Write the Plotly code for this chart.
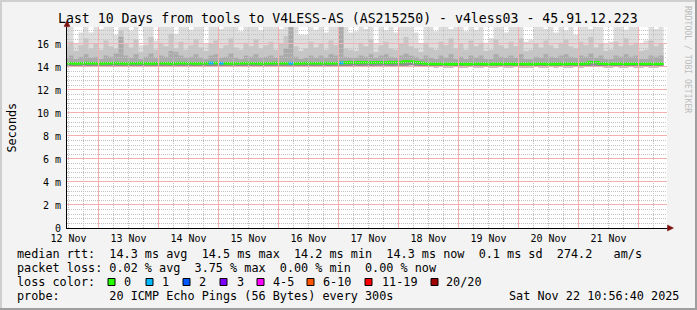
import plotly.graph_objects as go
import pandas as pd

# ---------------- data ----------------
TITLE = "Last 10 Days from tools to V4LESS-AS (AS215250) - v4less03 - 45.91.12.223"
bin_start = pd.Timestamp("2025-11-12 10:00")
bin_hours = 2
view_start = "2025-11-12 11:24"
view_end = "2025-11-22 11:24"
y_top = 17.48  # ms

# ping smoke (ms) per 2-hour bin
rtt_max = [
    18, 18, 16.0, 17.0, 18, 17.0, 18, 17.3, 18, 18,
    16.8, 18, 18, 17.2, 18, 15.9, 18, 18, 16.3, 18,
    18, 18, 16.9, 18, 18, 17.25, 18, 18, 16.0, 18,
    18, 17.3, 18, 18, 18, 17.1, 18, 18, 18, 17.2,
    18, 18, 18, 17.3, 18, 18, 18, 16.8, 16.8, 18,
    17.25, 18, 17.0, 18, 18, 18, 18, 17.0, 17.1, 18,
    17.3, 18, 16.0, 18, 17.2, 18, 17.0, 18, 18, 18,
    17.0, 16.0, 18, 18, 17.1, 18, 18, 17.3, 18, 18,
    17.1, 18, 17.25, 18, 16.1, 16.5, 18, 18, 17.0, 18,
    18, 18, 16.2, 16.4, 18, 18, 17.3, 18, 17.0, 18,
    17.2, 18, 16.8, 18, 18, 17.3, 18, 18, 16.0, 16.2,
    18, 18, 17.25, 18, 18, 16.0, 16.3, 18, 17.3, 18,
]
rtt_p80 = [
    15.8, 16.2, 15.4, 15.9, 16.5, 15.6, 16.0, 15.5, 16.3, 15.8,
    15.6, 17.2, 16.0, 15.7, 16.4, 15.3, 15.9, 16.6, 15.5, 16.1,
    15.8, 16.9, 15.6, 16.2, 15.5, 15.9, 16.4, 15.7, 15.4, 16.0,
    16.3, 15.6, 15.9, 16.5, 15.7, 15.5, 16.1, 15.8, 16.4, 15.6,
    15.9, 16.2, 15.5, 16.0, 16.7, 18.0, 15.8, 15.4, 15.6, 16.2,
    15.7, 16.0, 15.5, 16.3, 15.9, 18.0, 15.6, 15.5, 15.4, 16.1,
    15.8, 16.4, 15.3, 15.9, 16.2, 15.6, 15.5, 16.0, 16.6, 15.8,
    15.6, 15.3, 16.1, 15.7, 15.5, 16.2, 15.9, 16.5, 15.6, 16.0,
    15.5, 16.3, 15.8, 16.1, 15.4, 15.5, 16.4, 15.9, 15.6, 16.2,
    15.8, 16.5, 15.4, 15.5, 16.0, 15.7, 16.3, 15.9, 15.6, 16.1,
    16.4, 15.8, 15.6, 16.2, 15.9, 16.6, 15.7, 16.0, 15.4, 15.5,
    16.2, 15.8, 16.5, 15.9, 16.1, 15.4, 15.5, 16.3, 15.8, 16.0,
]
rtt_p60 = [
    14.8, 15.0, 14.7, 14.9, 15.1, 14.8, 14.9, 14.7, 15.0, 14.9,
    15.2, 16.6, 15.0, 14.8, 15.1, 14.7, 14.9, 15.2, 14.8, 15.0,
    14.9, 15.4, 15.3, 15.0, 14.8, 14.9, 15.1, 14.8, 14.7, 15.0,
    15.1, 14.8, 14.9, 15.2, 14.8, 14.7, 15.0, 14.9, 15.1, 14.8,
    14.9, 15.0, 14.8, 15.0, 15.6, 18.0, 14.9, 14.7, 14.8, 15.0,
    14.8, 15.0, 14.8, 15.1, 15.0, 18.0, 14.9, 14.8, 14.8, 15.0,
    14.9, 15.1, 14.8, 15.0, 15.1, 14.9, 14.8, 15.0, 15.2, 15.0,
    14.9, 14.7, 15.0, 14.8, 14.7, 15.0, 14.8, 15.1, 14.7, 14.9,
    14.7, 15.0, 14.8, 15.0, 14.7, 14.7, 15.1, 14.9, 14.8, 15.0,
    14.8, 15.1, 14.7, 14.7, 14.9, 14.8, 15.1, 14.9, 14.8, 15.0,
    15.1, 14.9, 14.8, 15.0, 14.9, 15.2, 14.8, 15.0, 14.7, 14.7,
    15.0, 14.9, 15.1, 14.9, 15.0, 14.7, 14.7, 15.0, 14.9, 15.0,
]
rtt_min = [
    14.05, 14.05, 14.08, 14.05, 14.03, 14.05, 14.06, 14.05, 14.04, 14.05,
    14.02, 14.03, 14.05, 14.06, 14.05, 14.08, 14.05, 14.04, 14.06, 14.05,
    14.05, 14.03, 14.04, 14.05, 14.06, 14.05, 14.05, 14.04, 14.06, 14.02,
    14.05, 14.02, 14.05, 14.04, 14.05, 14.06, 14.05, 14.05, 14.03, 14.05,
    14.06, 14.05, 14.04, 14.05, 14.03, 14.00, 14.05, 14.06, 14.05, 14.04,
    14.05, 14.05, 14.04, 14.05, 14.05, 14.00, 14.08, 14.08, 14.10, 14.08,
    14.10, 14.08, 14.10, 14.12, 14.10, 14.08, 14.10, 14.10, 14.12, 14.15,
    14.12, 14.08, 14.02, 14.00, 13.98, 14.00, 13.98, 13.97, 14.00, 13.98,
    13.97, 14.00, 13.98, 13.98, 14.00, 13.97, 13.98, 14.00, 13.98, 13.97,
    14.00, 13.98, 13.97, 13.98, 14.00, 13.98, 13.97, 14.00, 13.98, 14.00,
    13.98, 13.97, 14.00, 13.98, 14.02, 14.08, 14.05, 14.00, 13.98, 13.97,
    14.00, 13.98, 13.98, 14.00, 13.97, 13.98, 14.00, 13.98, 13.97, 14.00,
]
rtt_median = [
    14.33, 14.33, 14.30, 14.33, 14.35, 14.33, 14.33, 14.30, 14.33, 14.33,
    14.35, 14.33, 14.30, 14.33, 14.33, 14.35, 14.33, 14.30, 14.33, 14.33,
    14.33, 14.30, 14.33, 14.35, 14.33, 14.33, 14.30, 14.33, 14.33, 14.35,
    14.35, 14.33, 14.33, 14.30, 14.33, 14.33, 14.35, 14.33, 14.33, 14.30,
    14.33, 14.33, 14.35, 14.33, 14.33, 14.33, 14.30, 14.33, 14.35, 14.33,
    14.33, 14.33, 14.35, 14.33, 14.33, 14.36, 14.38, 14.40, 14.38, 14.40,
    14.40, 14.38, 14.40, 14.40, 14.38, 14.40, 14.40, 14.42, 14.48, 14.48,
    14.42, 14.36, 14.30, 14.27, 14.27, 14.28, 14.27, 14.25, 14.27, 14.27,
    14.25, 14.27, 14.28, 14.27, 14.27, 14.25, 14.27, 14.27, 14.28, 14.27,
    14.25, 14.27, 14.27, 14.25, 14.27, 14.28, 14.27, 14.25, 14.27, 14.27,
    14.27, 14.28, 14.27, 14.27, 14.30, 14.42, 14.42, 14.30, 14.28, 14.27,
    14.28, 14.28, 14.27, 14.28, 14.28, 14.27, 14.28, 14.28, 14.27, 14.28,
]
loss = [
    0, 0, 0, 0, 0, 0, 0, 0, 0, 0,
    0, 0, 0, 0, 0, 0, 0, 0, 0, 0,
    0, 0, 0, 0, 0, 0, 0, 0, 0, 1,
    0, 1, 0, 0, 0, 0, 0, 0, 0, 0,
    0, 0, 0, 0, 0, 1, 0, 0, 0, 0,
    0, 0, 0, 0, 0, 1, 0, 0, 0, 0,
    0, 0, 0, 0, 0, 0, 0, 0, 0, 0,
    0, 0, 0, 0, 0, 0, 0, 0, 0, 0,
    0, 0, 0, 0, 0, 0, 0, 0, 0, 0,
    0, 0, 0, 0, 0, 0, 0, 0, 0, 0,
    0, 0, 0, 0, 0, 0, 0, 0, 0, 0,
    0, 0, 0, 0, 0, 0, 0, 0, 0, 0,
]

y_ticks = [0, 2, 4, 6, 8, 10, 12, 14, 16]
y_tick_labels = ["0", "2 m", "4 m", "6 m", "8 m", "10 m", "12 m", "14 m", "16 m"]
y_minor = [round(k * 0.4, 1) for k in range(1, 44) if k % 5 != 0]
day_label_dates = ["2025-11-%02d 12:00" % d for d in range(12, 22)]
day_labels = ["%d Nov" % d for d in range(12, 22)]
midnights = ["2025-11-%02d 00:00" % d for d in range(13, 23)]
six_hour_marks = ["2025-11-%02d %02d:00" % (d, h) for d in range(12, 23) for h in (6, 12, 18)]

loss_labels = ["0", "1", "2", "3", "4-5", "6-10", "11-19", "20/20"]
loss_colors = ["#26ff00", "#00b8ff", "#0059ff", "#7e00ff", "#ff00ff", "#ff5500", "#ff0000", "#a10000"]

stats_rtt = dict(avg="14.3", max="14.5", min="14.2", now="14.3", sd="0.1", ams="274.2")
stats_loss = dict(avg="0.02", max="3.75", min="0.00", now="0.00")
probe_text = "20 ICMP Echo Pings (56 Bytes) every 300s"
stamp_text = "Sat Nov 22 10:56:40 2025"

# ---------------- geometry ----------------
W, H = 697, 310
L, R, T, B = 67, 30, 27, 82
PW, PH = W - L - R, H - T - B
FONT = "DejaVu Sans Mono"


def fx(xp):
    return (xp - L) / PW


def fy(yp):
    return (H - B - yp) / PH


n = len(rtt_median)
edges = [(bin_start + pd.Timedelta(hours=bin_hours * i)).strftime("%Y-%m-%d %H:%M:%S") for i in range(n + 1)]


def step(a):
    return list(a) + [a[-1]]


fig = go.Figure()


def band(lo, hi, color):
    fig.add_trace(go.Scatter(x=edges, y=step(lo), mode="lines", line=dict(width=0, shape="hv"),
                             hoverinfo="skip", showlegend=False))
    fig.add_trace(go.Scatter(x=edges, y=step(hi), mode="lines", line=dict(width=0, shape="hv"),
                             fill="tonexty", fillcolor=color, hoverinfo="skip", showlegend=False))


band(rtt_min, rtt_max, "#dddddd")
band(rtt_min, rtt_p80, "#c6c6c6")
band(rtt_min, rtt_p60, "#aaaaaa")
band(rtt_min, rtt_median, "#8e8e8e")

fig.add_trace(go.Scatter(x=edges, y=step(rtt_median), mode="lines",
                         line=dict(color=loss_colors[0], width=2.6, shape="hv"),
                         showlegend=False, hoverinfo="skip"))


def loss_bucket(v):
    if v <= 3:
        return v
    if v <= 5:
        return 4
    if v <= 10:
        return 5
    if v <= 19:
        return 6
    return 7


for b in range(1, 8):
    xs, ys = [], []
    for i, v in enumerate(loss):
        if v > 0 and loss_bucket(v) == b:
            xs += [edges[i], edges[i + 1], None]
            ys += [rtt_median[i], rtt_median[i], None]
    if xs:
        fig.add_trace(go.Scatter(x=xs, y=ys, mode="lines",
                                 line=dict(color=loss_colors[b], width=2.6),
                                 showlegend=False, hoverinfo="skip"))

# grid-only subplot drawn above the smoke (gray minor grid)
fig.add_trace(go.Scatter(x=[], y=[], xaxis="x2", yaxis="y2", showlegend=False))

tickfont = dict(family=FONT, size=10, color="#000000")
RED = "#f4b0b0"
GRAY = "#c2c2c2"
DASH = "1px,1px"

fig.update_layout(
    width=W, height=H,
    margin=dict(l=L, r=R, t=T, b=B, pad=0),
    paper_bgcolor="#f3f3f3",
    plot_bgcolor="rgba(0,0,0,0)",
    showlegend=False,
    xaxis=dict(type="date", range=[view_start, view_end], domain=[0, 1], anchor="y",
               tickmode="array", tickvals=day_label_dates, ticktext=day_labels,
               showgrid=False, zeroline=False, showline=True, linecolor="#000000", linewidth=1,
               ticks="", tickfont=tickfont, ticklabelstandoff=1, fixedrange=True),
    yaxis=dict(range=[0, y_top], domain=[0, 1], anchor="x",
               tickmode="array", tickvals=y_ticks, ticktext=y_tick_labels,
               showgrid=False, zeroline=False, showline=True, linecolor="#000000", linewidth=1,
               ticks="", tickfont=tickfont, ticklabelstandoff=3, fixedrange=True),
    xaxis2=dict(type="date", range=[view_start, view_end], domain=[0, 1], anchor="y2",
                tickmode="array", tickvals=six_hour_marks, showticklabels=False,
                showgrid=True, gridcolor=GRAY, griddash=DASH, gridwidth=1,
                zeroline=False, showline=False, ticks="", fixedrange=True),
    yaxis2=dict(range=[0, y_top], domain=[0, 1], anchor="x2",
                tickmode="array", tickvals=y_minor, showticklabels=False,
                showgrid=True, gridcolor=GRAY, griddash=DASH, gridwidth=1,
                zeroline=False, showline=False, ticks="", fixedrange=True),
)

shapes = []
# canvas
shapes.append(dict(type="rect", xref="paper", yref="paper", x0=0, x1=1, y0=0, y1=1,
                   fillcolor="#ffffff", line=dict(width=0), layer="below"))
# frame shading
shapes.append(dict(type="rect", xref="paper", yref="paper", x0=fx(0), x1=fx(W), y0=fy(0), y1=fy(2),
                   fillcolor="#cfcfcf", line=dict(width=0), layer="below"))
shapes.append(dict(type="rect", xref="paper", yref="paper", x0=fx(0), x1=fx(2), y0=fy(0), y1=fy(H),
                   fillcolor="#cfcfcf", line=dict(width=0), layer="below"))
shapes.append(dict(type="rect", xref="paper", yref="paper", x0=fx(W - 2), x1=fx(W), y0=fy(0), y1=fy(H),
                   fillcolor="#9e9e9e", line=dict(width=0), layer="below"))
shapes.append(dict(type="rect", xref="paper", yref="paper", x0=fx(0), x1=fx(W), y0=fy(H - 2), y1=fy(H),
                   fillcolor="#9e9e9e", line=dict(width=0), layer="below"))

# major (red) grid lines at the day boundaries and every 2 m, drawn above the smoke
for t in midnights:
    shapes.append(dict(type="line", xref="x", yref="paper", x0=t, x1=t, y0=0, y1=1,
                       line=dict(color=RED, width=1), layer="above"))
for v in y_ticks[1:]:
    shapes.append(dict(type="line", xref="paper", yref="y", ysizemode="pixel", yanchor=v,
                       x0=0, x1=1, y0=0.5, y1=0.5,
                       line=dict(color=RED, width=1), layer="above"))

# axis extensions and arrows
shapes.append(dict(type="line", xref="paper", yref="paper", x0=0, x1=0, y0=1, y1=fy(22),
                   line=dict(color="#000000", width=1)))
shapes.append(dict(type="line", xref="paper", yref="paper", x0=1, x1=fx(669), y0=0, y1=0,
                   line=dict(color="#000000", width=1)))
shapes.append(dict(type="path", xref="paper", yref="paper",
                   path="M %f,%f L %f,%f L %f,%f Z" % (fx(64), fy(26.5), fx(70), fy(26.5), fx(67), fy(20.5)),
                   fillcolor="#7f1010", line=dict(color="#7f1010", width=0.5)))
shapes.append(dict(type="path", xref="paper", yref="paper",
                   path="M %f,%f L %f,%f L %f,%f Z" % (fx(667.5), fy(225), fx(667.5), fy(231), fx(673.5), fy(228)),
                   fillcolor="#7f1010", line=dict(color="#7f1010", width=0.5)))

annotations = []


def text(xp, yp, s, size=11.8, anchor="left", color="#000000", angle=0):
    annotations.append(dict(x=fx(xp), y=fy(yp), xref="paper", yref="paper", text=s.replace(" ", "\u00a0"),
                            showarrow=False, xanchor=anchor, yanchor="middle", textangle=angle,
                            font=dict(family=FONT, size=size, color=color)))


text(348, 18, TITLE, size=13.2, anchor="center")
text(11, 127.5, "Seconds", angle=-90, anchor="center")
text(688, 59, "RRDTOOL / TOBI OETIKER", size=8.1, anchor="center", color="#bcbcbc", angle=90)

row1 = ("median rtt:  %s ms avg  %s ms max  %s ms min  %s ms now  %s ms sd  %s   am/s"
        % (stats_rtt["avg"], stats_rtt["max"], stats_rtt["min"], stats_rtt["now"], stats_rtt["sd"], stats_rtt["ams"]))
row2 = ("packet loss: %s %% avg  %s %% max  %s %% min  %s %% now"
        % (stats_loss["avg"], stats_loss["max"], stats_loss["min"], stats_loss["now"]))
text(15, 254, row1)
text(15, 268, row2)
text(15, 282, "loss color:")
text(15, 296, "probe:       " + probe_text)
text(681, 296, stamp_text, anchor="right")

box_x = [108, 146, 183, 220, 257, 307, 365, 431]
label_x = [122, 160, 197, 235, 271, 321, 380, 444]
for bx, lx, lab, col in zip(box_x, label_x, loss_labels, loss_colors):
    shapes.append(dict(type="rect", xref="paper", yref="paper", x0=fx(bx), x1=fx(bx + 7),
                       y0=fy(278.5), y1=fy(285.5), fillcolor=col, line=dict(color="#000000", width=1)))
    text(lx, 282, lab)

fig.update_layout(shapes=shapes, annotations=annotations)
fig.write_html("out.html")
